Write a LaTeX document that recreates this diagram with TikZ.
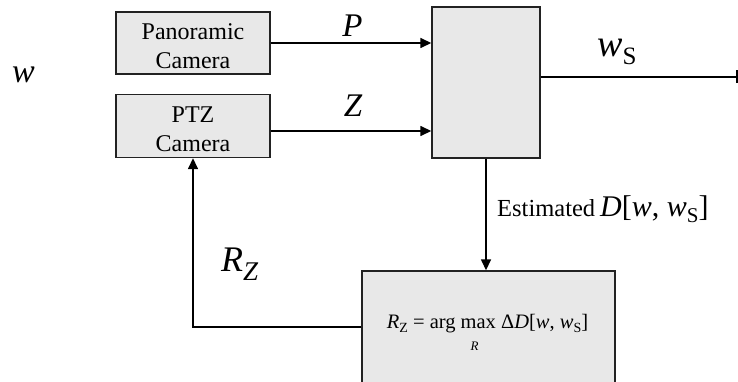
\documentclass[tikz,border=0pt]{standalone}
\usepackage{fontspec}
\setmainfont{Liberation Serif}
\usetikzlibrary{arrows.meta}
\definecolor{boxfill}{HTML}{E8E8E8}
\definecolor{linecol}{HTML}{222222}
\newcommand\fsz[1]{\fontsize{#1}{#1}\selectfont}
\newcommand\mysub[3]{\raisebox{-#2pt}{\fontsize{#1}{#1}\selectfont #3}}
\begin{document}
\begin{tikzpicture}[x=1pt,y=1pt,
  box/.style={draw=linecol, fill=boxfill, line width=1.4pt, inner sep=0pt},
  boxtext/.style={font=\fontsize{24}{29}\selectfont, align=center, inner sep=0pt},
  conn/.style={draw=black, line width=1.5pt},
  arr/.style={conn, -{Triangle[length=11pt,width=10pt]}},
  lbl/.style={inner sep=0pt, anchor=base},
  lblw/.style={inner sep=0pt, anchor=base west}]
\clip (0,0) rectangle (738,-382);
% boxes
\node[box, minimum width=154, minimum height=62] (pan) at (193,-43) {};
\node[boxtext] (pantext) at (193,-46) {Panoramic\\Camera};
\node[box, minimum width=154, minimum height=63] (ptz) at (193,-126) {};
\node[boxtext] (ptztext) at (193,-129) {PTZ\\Camera};
\node[box, minimum width=108, minimum height=151] (big) at (486,-82.5) {};
\node[box, minimum width=253, minimum height=112] (bot) at (488.5,-327) {};
\coordinate (out) at (738,-77);
% connectors
\draw[arr] (pan.east) -- (pan.east -| big.west);
\draw[arr] ([yshift=-5pt]ptz.east) -- ([yshift=-5pt]ptz.east -| big.west);
\draw[conn, -{Bar[width=13pt,line width=2.5pt]}] (big.east |- out) -- (out);
\draw[arr] (big.south) -- (big.south |- bot.north);
\draw[arr] (bot.west) -| (ptz.south);
% labels
\node[lbl] (wlab) at (23.5,-83) {\fsz{34}\itshape w};
\node[lbl] (plab) at (352.5,-37) {\fsz{33}\itshape P};
\node[lbl] (zlab) at (353,-117) {\fsz{33}\itshape Z};
\node[lblw] (wslab) at (597,-57) {{\fsz{38}\itshape w}\mysub{25}{8}{S}};
\node[lblw] (rzlab) at (221,-271) {{\fsz{36}\itshape R}\mysub{27}{9}{\itshape Z}};
\node[lblw] (estlab) at (497,-216) {{\fsz{24.5}Estimated}\hspace{5pt}{\fsz{30}\itshape D\upshape[\itshape w\upshape, \itshape w}\mysub{21}{6}{S}{\fsz{30}]}};
\node[lbl] (formula) at (487.5,-328) {\fsz{20.5}{\itshape R}\mysub{14}{4}{Z} = arg \rlap{\hspace{10pt}\raisebox{-22pt}{\fsz{13}\itshape R}}max Δ{\itshape D}[{\itshape w}, {\itshape w}\mysub{14}{4}{S}]};
\end{tikzpicture}
\end{document}
